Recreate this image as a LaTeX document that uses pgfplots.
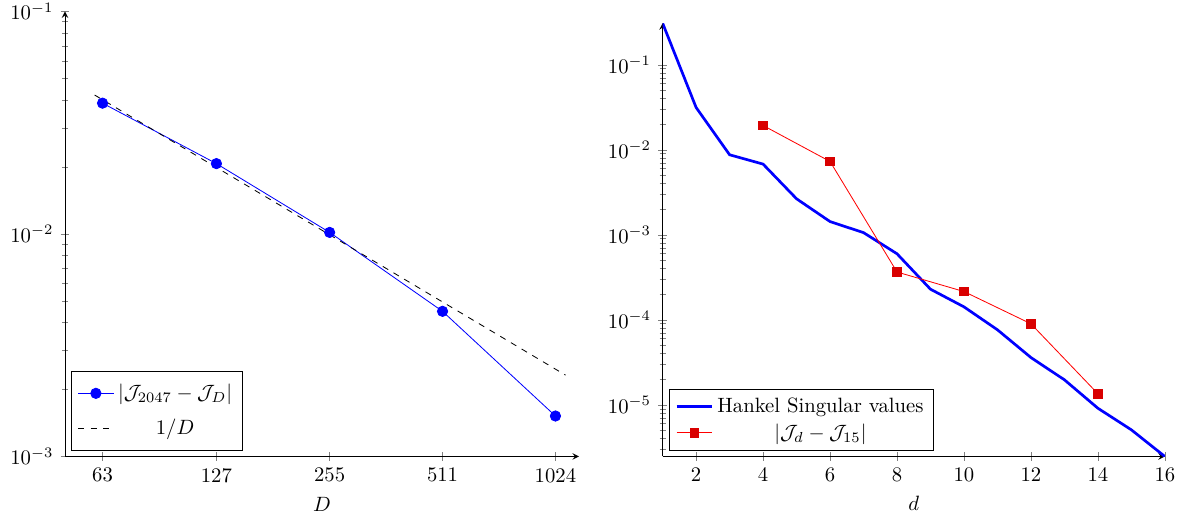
\documentclass[border=0pt]{standalone}
\usepackage{pgfplots}
\pgfplotsset{compat=1.18}
\begin{document}
\begin{tikzpicture}
\useasboundingbox (-31.4pt,-29.3pt) rectangle (542pt,220.5pt);
\begin{axis}[
  scale only axis, width=248.3pt, height=215pt,
  axis lines=left, tick align=center,
  xmode=log, ymode=log, log basis x=2,
  xmin=50, xmax=1184, ymin=1e-3, ymax=1e-1,
  xtick={63,127,255,511,1024}, xticklabels={63,127,255,511,1024},
  minor xtick={},
  xlabel={$D$},
  legend cell align=center,
  legend style={at={(0.012,0.013)}, anchor=south west, draw=black,
    nodes={inner ysep=4pt}},
]
\addplot[blue, mark=*, mark size=2.5pt] coordinates {
  (63,0.0387) (127,0.0207) (255,0.01016) (511,0.00449) (1024,0.00152)
};
\addlegendentry{$\left|\mathcal{J}_{2047}-\mathcal{J}_D\right|$}
\addplot[black, dashed] coordinates {(60,0.0421) (1090,0.00232)};
\addlegendentry{$1/D$}
\end{axis}
\begin{axis}[
  at={(288.7pt,0pt)}, anchor=south west,
  scale only axis, width=242.6pt, height=209.3pt,
  axis lines=left, tick align=center,
  ymode=log,
  xmin=1, xmax=16, ymin=2.47e-6, ymax=0.308,
  xtick={2,4,6,8,10,12,14,16},
  xlabel={$d$},
  legend cell align=center,
  legend style={at={(0.012,0.013)}, anchor=south west, draw=black},
]
\addplot[blue, line width=1.3pt] coordinates {
  (1,0.308) (2,0.0314) (3,0.00873) (4,0.00678) (5,0.00265) (6,0.00143)
  (7,0.00106) (8,5.98e-4) (9,2.29e-4) (10,1.42e-4) (11,7.63e-5)
  (12,3.60e-5) (13,1.97e-5) (14,9.12e-6) (15,5.08e-6) (16,2.47e-6)
};
\addlegendentry{Hankel Singular values}
\addplot[red, mark=square*, mark size=2.1pt, mark options={fill=red!85!black, draw=red!85!black}] coordinates {
  (4,0.0193) (6,0.00728) (8,3.65e-4) (10,2.15e-4) (12,8.98e-5) (14,1.35e-5)
};
\addlegendentry{$|\mathcal{J}_d-\mathcal{J}_{15}|$}
\end{axis}
\end{tikzpicture}
\end{document}
